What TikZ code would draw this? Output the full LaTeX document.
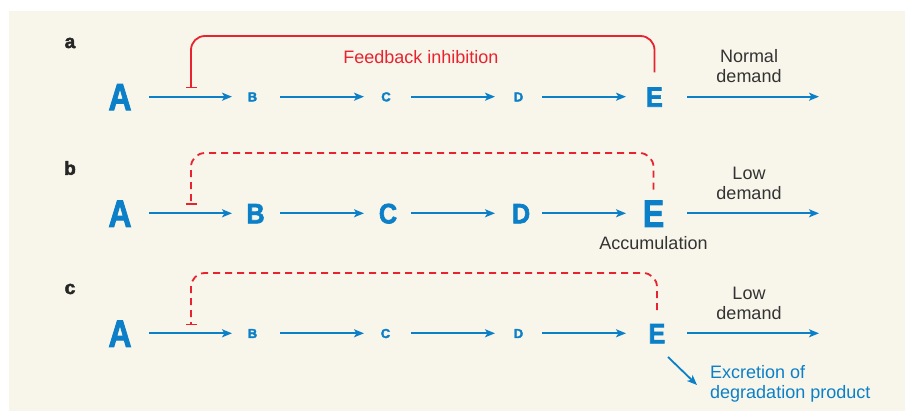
\documentclass[tikz,border=0pt]{standalone}
\usepackage{fontspec}
\setmainfont{Liberation Sans}
\newfontfamily\heavyfont{Liberation Sans Bold}[FakeBold=2.5]
\usetikzlibrary{arrows.meta}
\definecolor{bgc}{HTML}{F8F5EA}
\definecolor{blu}{HTML}{0B80C8}
\definecolor{rd}{HTML}{E8232F}
\definecolor{txt}{HTML}{333333}
\tikzset{
  big/.style={font=\fontsize{38}{38}\heavyfont, text height=27pt, text depth=0pt, inner sep=0pt, xscale=0.84, transform shape},
  mid/.style={font=\fontsize{28}{28}\heavyfont, text height=20pt, text depth=0pt, inner sep=0pt, xscale=0.9, transform shape},
  sml/.style={font=\fontsize{13}{13}\heavyfont, text height=9.4pt, text depth=0pt, inner sep=0pt},
  letter/.style={text=blu},
  arr/.style={draw=blu, line width=1.8pt, -{Stealth[length=10pt,width=8pt,inset=2.5pt]}},
  inh/.style={draw=rd, line width=1.8pt, rounded corners=14pt, -{Bar[width=11pt,line width=1.8pt]}},
  inhd/.style={inh, dash pattern=on 7pt off 5pt},
  panel/.style={font=\fontsize{19}{19}\heavyfont, text=black!85, inner sep=0pt},
  note/.style={font=\fontsize{18}{20}\selectfont, text=txt, align=center, inner sep=0pt},
  gap/.style 2 args={shorten <=#1pt, shorten >=#2pt}
}
\begin{document}
\begin{tikzpicture}[x=1pt,y=-1pt]
\useasboundingbox (0,0) rectangle (905,411);
\fill[bgc] (9,11) rectangle (905,411);
% panel labels
\node[panel] (la) at (70,43) {a};
\node[panel] (lb) at (70,168) {b};
\node[panel] (lc) at (70,289) {c};
% ---------- row a ----------
\node[big,letter] (Aa) at (120,96.7) {A};
\node[sml,letter] (Ba) at (252.5,96.7) {B};
\node[sml,letter] (Ca) at (386,96.7) {C};
\node[sml,letter] (Da) at (518.5,96.7) {D};
\node[mid,letter] (Ea) at (654.5,96.7) {E};
\coordinate (Xa) at (819,96.7);
\draw[arr,gap={29}{20.5}] (Aa.center) -- (Ba.center);
\draw[arr,gap={27.5}{22}] (Ba.center) -- (Ca.center);
\draw[arr,gap={25}{23.5}] (Ca.center) -- (Da.center);
\draw[arr,gap={23.5}{28.5}] (Da.center) -- (Ea.center);
\draw[arr,gap={32.5}{0}] (Ea.center) -- (Xa);
\coordinate (ia) at (191,88.5);
\coordinate (ta) at (0,36);
\draw[inh] ([yshift=14pt]Ea.north) -- (Ea.north |- ta) -- (ia |- ta) -- (ia);
\node[note,text=rd] (fb) at (421,57) {Feedback inhibition};
\node[note] (nd) at (749,66) {Normal\\demand};
% ---------- row b ----------
\node[big,letter] (Ab) at (120,213.3) {A};
\node[mid,letter] (Bb) at (255.5,213.3) {B};
\node[mid,letter] (Cb) at (388,213.3) {C};
\node[mid,letter] (Db) at (521,213.3) {D};
\node[big,letter] (Eb) at (653.5,213.3) {E};
\coordinate (Xb) at (819,213.3);
\draw[arr,gap={29}{23.5}] (Ab.center) -- (Bb.center);
\draw[arr,gap={24.5}{24}] (Bb.center) -- (Cb.center);
\draw[arr,gap={23}{26}] (Cb.center) -- (Db.center);
\draw[arr,gap={21}{27.5}] (Db.center) -- (Eb.center);
\draw[arr,gap={33.5}{0}] (Eb.center) -- (Xb);
\coordinate (ib) at (191,205.3);
\coordinate (tb) at (0,153);
\draw[inhd] ([yshift=10pt]Eb.north) -- (Eb.north |- tb) -- (ib |- tb) -- (ib);
\node[note] (lw1) at (749,183) {Low\\demand};
\node[note] (acc) at (653.5,243) {Accumulation};
% ---------- row c ----------
\node[big,letter] (Ac) at (120,333.3) {A};
\node[sml,letter] (Bc) at (252.5,333.3) {B};
\node[sml,letter] (Cc) at (385.5,333.3) {C};
\node[sml,letter] (Dc) at (518.5,333.3) {D};
\node[mid,letter] (Ec) at (657,333.3) {E};
\coordinate (Xc) at (819,333.3);
\draw[arr,gap={29}{20.5}] (Ac.center) -- (Bc.center);
\draw[arr,gap={27.5}{21.5}] (Bc.center) -- (Cc.center);
\draw[arr,gap={25.5}{23.5}] (Cc.center) -- (Dc.center);
\draw[arr,gap={23.5}{31}] (Dc.center) -- (Ec.center);
\draw[arr,gap={30}{0}] (Ec.center) -- (Xc);
\coordinate (ic) at (191,325.5);
\coordinate (tc) at (0,273);
\draw[inhd] ([yshift=13pt]Ec.north) -- (Ec.north |- tc) -- (ic |- tc) -- (ic);
\node[note] (lw2) at (749,303) {Low\\demand};
\node[note,text=blu,align=left,anchor=west] (exc) at (710,383.5) {Excretion of\\degradation product};
\coordinate (xs) at (668,357);
\coordinate (xe) at (697,385);
\draw[draw=blu, line width=1.8pt, -{Stealth[length=10pt,width=8pt,inset=2.5pt]}] (xs) -- (xe);
\end{tikzpicture}
\end{document}
